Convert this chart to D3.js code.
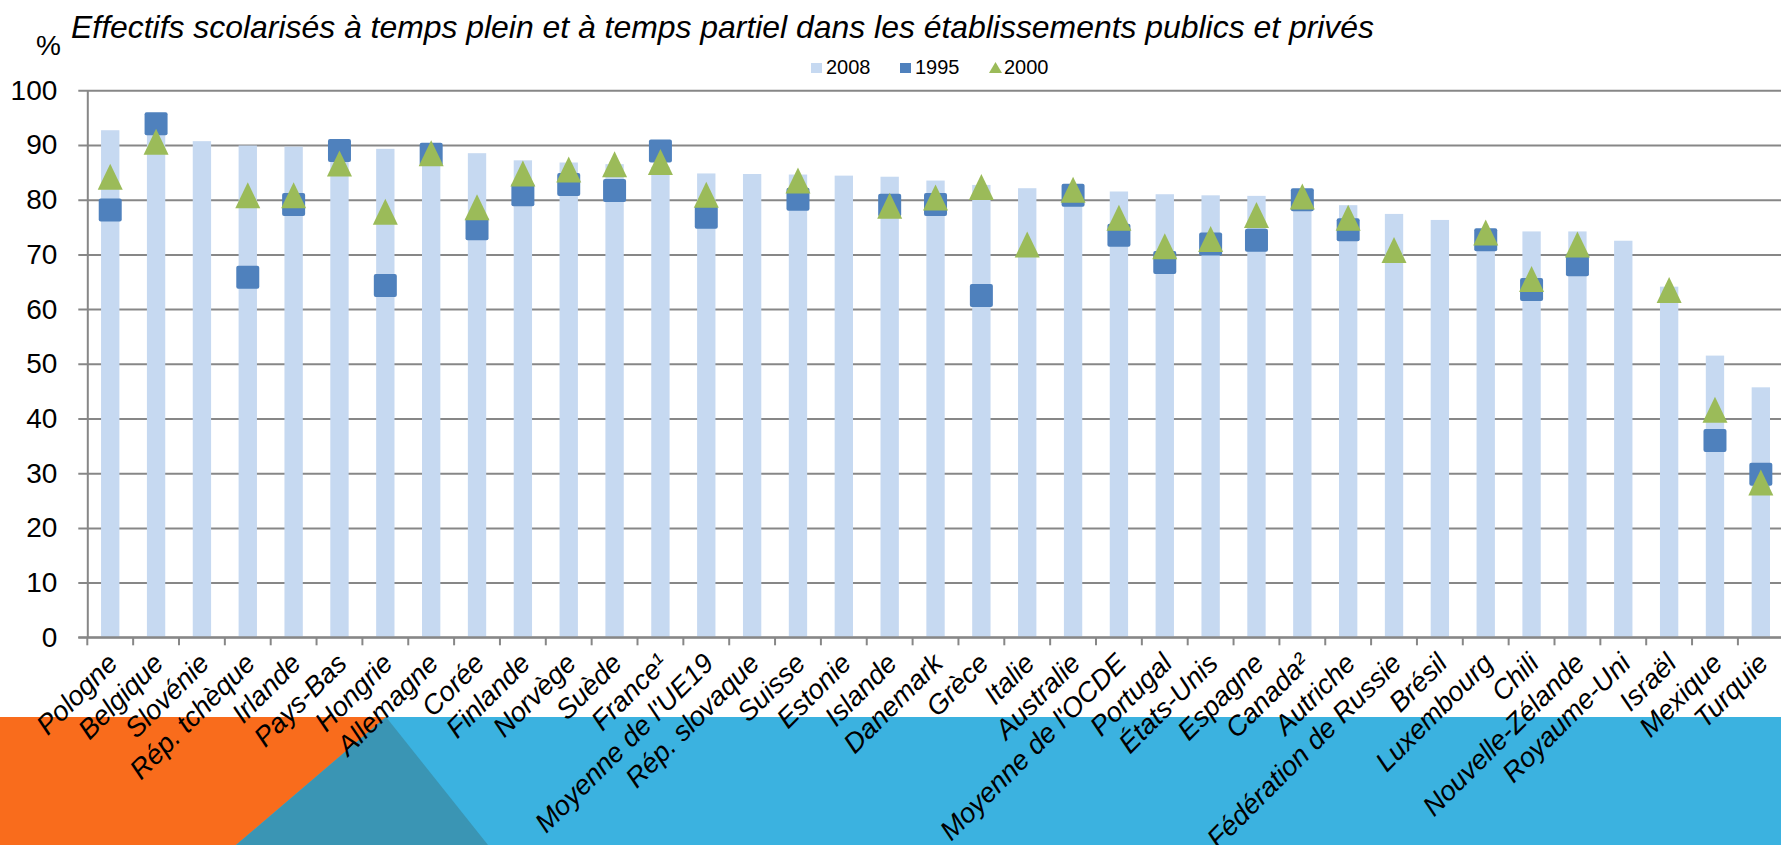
<!DOCTYPE html>
<html>
<head>
<meta charset="utf-8">
<script src="https://cdn.jsdelivr.net/npm/d3@7"></script>
<style>
  body { margin: 0; background: #fff; }
  svg { display: block; font-family: "Liberation Sans", Arial, sans-serif; }
</style>
</head>
<body>
<div id="chart"></div>
<script>
// values (% of 15-19 year-olds enrolled)
const categories = ["Pologne", "Belgique", "Slovénie", "Rép. tchèque", "Irlande", "Pays-Bas", "Hongrie",
  "Allemagne", "Corée", "Finlande", "Norvège", "Suède", "France¹", "Moyenne de l'UE19", "Rép. slovaque",
  "Suisse", "Estonie", "Islande", "Danemark", "Grèce", "Italie", "Australie", "Moyenne de l'OCDE",
  "Portugal", "États-Unis", "Espagne", "Canada²", "Autriche", "Fédération de Russie", "Brésil",
  "Luxembourg", "Chili", "Nouvelle-Zélande", "Royaume-Uni", "Israël", "Mexique", "Turquie"]

const values2008 = [92.7, 92.0, 90.7, 89.9, 89.7, 89.5, 89.3, 88.8, 88.5, 87.2, 86.8, 86.5, 86.0, 84.8, 84.7,
  84.6, 84.4, 84.2, 83.5, 82.7, 82.1, 81.9, 81.5, 81.0, 80.8, 80.7, 80.4, 79.0, 77.4, 76.3,
  74.6, 74.2, 74.2, 72.5, 64.1, 51.5, 45.7]

const values1995 = [78.1, 93.9, null, 65.8, 79.1, 89.0, 64.3, 88.3, 74.7, 80.9, 82.8, 81.7, 88.9, 76.8, null,
  80.1, null, 79.0, 79.1, 62.5, null, 80.8, 73.5, 68.5, 71.9, 72.6, 80.0, 74.5, null, null,
  72.7, 63.6, 68.1, null, null, 36.0, 29.8]

const values2000 = [84.2, 90.6, null, 80.8, 80.8, 86.6, 77.8, 88.5, 78.6, 84.8, 85.5, 86.5, 86.9, 80.9, null,
  83.5, null, 78.9, 80.4, 82.3, 71.8, 81.8, 76.7, 71.5, 72.8, 77.2, 80.6, 76.7, 70.8, null,
  74.0, 65.5, 71.8, null, 63.5, 41.6, 28.3]

const yTicks = [0, 10, 20, 30, 40, 50, 60, 70, 80, 90, 100]
const seriesNames = ["2008", "1995", "2000"]

const width = 1781
const height = 845

let colors = {
  bar: "#c6d9f1",
  square: "#4f81bd",
  triangle: "#9bbb59",
  grid: "#878787",
  orange: "#f96c1c",
  blue: "#3bb2e0",
  overlap: "#3a95b4"
}

let plot = { left: 87.3, top: 90.3, bottom: 637.3, step: 45.85 }

const svg = d3.select("#chart")
  .append("svg")
  .attr("width", width)
  .attr("height", height)

// decorative band at the bottom
const band = svg.append("g").attr("id", "band")
band.append("polygon")
  .attr("points", "0,717 386,717 488,845 0,845")
  .attr("fill", colors.orange)
band.append("polygon")
  .attr("points", `386,717 ${width},717 ${width},845 236,845`)
  .attr("fill", colors.blue)
band.append("polygon")
  .attr("points", "386,717 488,845 236,845")
  .attr("fill", colors.overlap)

let x = d3.scaleBand()
  .domain(categories)
  .range([plot.left, plot.left + plot.step * categories.length])
  .paddingInner(0.6)
  .paddingOuter(0.3)

let y = d3.scaleLinear()
  .domain([0, 100])
  .range([plot.bottom, plot.top])

// y axis with gridlines
let yAxis = d3.axisLeft(y)
  .tickValues(yTicks)
  .tickSize(-(width - plot.left))
  .tickSizeOuter(0)
  .tickPadding(30)

const gy = svg.append("g").attr("id", "y-axis")
  .attr("transform", `translate(${plot.left},0)`)
  .call(yAxis)
gy.select(".domain").attr("stroke", colors.grid).attr("stroke-width", 2)
gy.selectAll(".tick line")
  .attr("x1", -9)
  .attr("stroke", colors.grid)
  .attr("stroke-width", 2)
gy.selectAll(".tick text")
  .attr("font-size", 28)
  .attr("fill", "#000")
  .attr("font-family", "Liberation Sans, Arial, sans-serif")

// x axis ticks between categories
let tickPos = d3.range(categories.length + 1).map(i => plot.left + i * plot.step)
svg.append("g").attr("id", "x-ticks")
  .selectAll("line")
  .data(tickPos)
  .enter()
  .append("line")
  .attr("x1", d => d).attr("x2", d => d)
  .attr("y1", plot.bottom).attr("y2", plot.bottom + 8)
  .attr("stroke", colors.grid)
  .attr("stroke-width", 2)

// 2008 bars
svg.append("g").attr("id", "bars")
  .selectAll("rect")
  .data(categories)
  .enter()
  .append("rect")
  .attr("x", d => x(d))
  .attr("width", x.bandwidth())
  .attr("y", (d, i) => y(values2008[i]))
  .attr("height", (d, i) => y(0) - y(values2008[i]))
  .attr("fill", colors.bar)

// redraw baseline over the bars
svg.append("line")
  .attr("x1", plot.left - 9).attr("x2", width)
  .attr("y1", plot.bottom).attr("y2", plot.bottom)
  .attr("stroke", colors.grid)
  .attr("stroke-width", 2)

const cx = d => x(d) + x.bandwidth() / 2

// 1995 squares
let sq = 23
svg.append("g").attr("id", "squares")
  .selectAll("rect")
  .data(categories.filter((d, i) => values1995[i] != null))
  .enter()
  .append("rect")
  .attr("x", d => cx(d) - sq / 2)
  .attr("y", d => y(values1995[categories.indexOf(d)]) - sq / 2)
  .attr("width", sq)
  .attr("height", sq)
  .attr("rx", 2)
  .attr("fill", colors.square)

// 2000 triangles
let tw = 25, th = 26
const triPath = `M0,${-th / 2}L${tw / 2},${th / 2}L${-tw / 2},${th / 2}Z`
svg.append("g").attr("id", "triangles")
  .selectAll("path")
  .data(categories.filter((d, i) => values2000[i] != null))
  .enter()
  .append("path")
  .attr("d", triPath)
  .attr("transform", d => `translate(${cx(d)},${y(values2000[categories.indexOf(d)])})`)
  .attr("fill", colors.triangle)

// category labels
svg.append("g").attr("id", "x-labels")
  .selectAll("text")
  .data(categories)
  .enter()
  .append("text")
  .attr("transform", d => `translate(${cx(d) + 9},665) rotate(-45)`)
  .attr("text-anchor", "end")
  .attr("font-size", 27.5)
  .attr("font-style", "italic")
  .attr("fill", "#000")
  .text(d => d)

// title and unit
svg.append("text")
  .attr("x", 71)
  .attr("y", 38)
  .attr("font-size", 32)
  .attr("font-style", "italic")
  .attr("textLength", 1303)
  .attr("lengthAdjust", "spacingAndGlyphs")
  .text("Effectifs scolarisés à temps plein et à temps partiel dans les établissements publics et privés")

svg.append("text")
  .attr("x", 36)
  .attr("y", 55)
  .attr("font-size", 28)
  .text("%")

// legend
const legend = svg.append("g").attr("id", "legend")
let legendX = [811, 900, 989]
legend.selectAll("g")
  .data(seriesNames)
  .enter()
  .append("g")
  .attr("transform", (d, i) => `translate(${legendX[i]},0)`)
  .each(function (d, i) {
    const g = d3.select(this)
    if (i < 2) {
      g.append("rect")
        .attr("x", 0).attr("y", 63)
        .attr("width", 11).attr("height", 10)
        .attr("fill", i == 0 ? colors.bar : colors.square)
    } else {
      g.append("path")
        .attr("d", "M6.5,62L13,73L0,73Z")
        .attr("fill", colors.triangle)
    }
    g.append("text")
      .attr("x", 15)
      .attr("y", 74)
      .attr("font-size", 20)
      .text(d)
  })
</script>
</body>
</html>
